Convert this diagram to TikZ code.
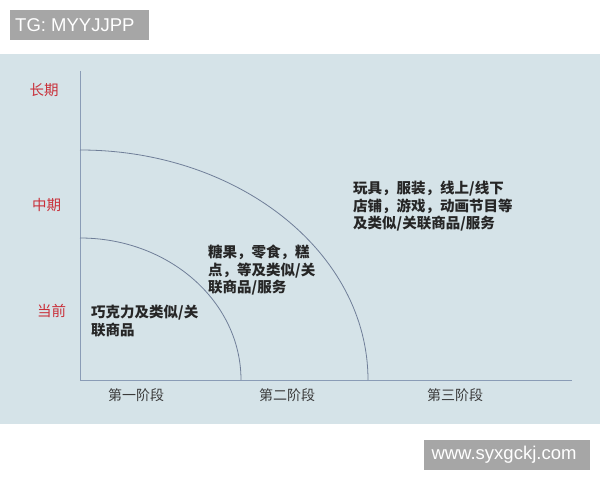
\documentclass[tikz,border=0pt]{standalone}
\usepackage{fontspec}
\setmainfont{Noto Sans CJK SC}
\newfontfamily\heavyfont{Noto Sans CJK SC Black}
\newfontfamily\wmfont{Liberation Sans}
\usepackage{tikz}
\usetikzlibrary{calc}
\definecolor{panel}{HTML}{D5E3E8}
\definecolor{axisline}{HTML}{8A9CB6}
\definecolor{arcline}{HTML}{6F7E98}
\definecolor{termred}{HTML}{C9303A}
\definecolor{stagegray}{HTML}{3A3A3A}
\definecolor{markgray}{HTML}{A6A6A6}

\begin{document}
\begin{tikzpicture}[x=1pt,y=1pt,
    term/.style={text=termred,inner sep=0,font=\fontsize{14.5}{17}\selectfont},
    stage/.style={text=stagegray,inner sep=0,font=\fontsize{14}{17}\selectfont},
    goods/.style={anchor=north west,inner sep=0,align=left,text=black!85,font=\heavyfont\fontsize{14.5}{17.5}\selectfont},
    wmark/.style={text=white,inner sep=0,font=\wmfont\fontsize{18.5}{20}\selectfont}]
    \useasboundingbox (0,0) rectangle (600,480);
    \coordinate (O)  at ( 80,100);
    \coordinate (Y)  at ( 80,409);
    \coordinate (X)  at (572,100);
    \coordinate (P1) at ( 80,242);
    \coordinate (P2) at ( 80,330);
    \fill[color=panel] (0,56) rectangle (600,426);
    \fill[color=markgray] (10,440) rectangle (149,470);
    \fill[color=markgray] (424,10) rectangle (590,40);
    \node[wmark,anchor=west] (tg) at (15,455) {TG: MYYJJPP};
    \node[wmark] (site) at (504,25) {www.syxgckj.com};
    \draw[color=axisline,line width=1pt] (Y) -- (O) -- (X);
    \draw[color=arcline,line width=0.8pt] (P1) arc[start angle=90,end angle=0,x radius=161,y radius=142];
    \draw[color=arcline,line width=0.8pt] (P2) arc[start angle=90,end angle=0,x radius=288,y radius=230];
    \node[term] (long) at (44,390)   {长期};
    \node[term] (mid)  at (46.5,275) {中期};
    \node[term] (now)  at (51.5,169) {当前};
    \node[stage] (s1) at (136,85)   {第一阶段};
    \node[stage] (s2) at (287,85)   {第二阶段};
    \node[stage] (s3) at (455,84.5) {第三阶段};
    \node[goods] (g1) at (91,175)  {巧克力及类似/关\\联商品};
    \node[goods] (g2) at (208,235) {糖果，零食，糕\\点，等及类似/关\\联商品/服务};
    \node[goods] (g3) at (353,299) {玩具，服装，线上/线下\\店铺，游戏，动画节目等\\及类似/关联商品/服务};
  \end{tikzpicture}
\end{document}
